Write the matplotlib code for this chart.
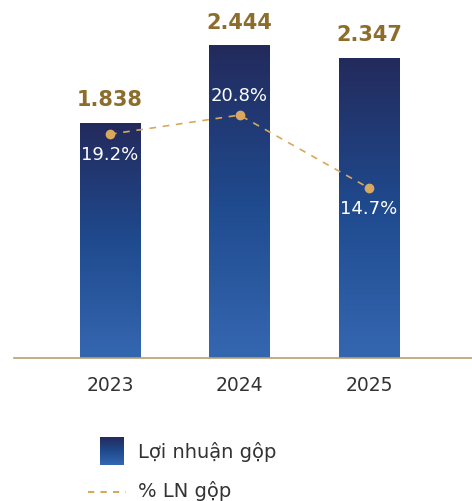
import numpy as np
import matplotlib.pyplot as plt
from matplotlib.colors import LinearSegmentedColormap

years = ["2023", "2024", "2025"]
profit = [1838, 2444, 2347]
profit_labels = ["1.838", "2.444", "2.347"]
margin = [19.2, 20.8, 14.7]
margin_labels = ["19.2%", "20.8%", "14.7%"]

gold = "#8c6d2c"
line_col = "#d8a85e"
grad = LinearSegmentedColormap.from_list("bar", ["#3567b1", "#1f4a8e", "#232a5c"])
gradient = np.linspace(0, 1, 256).reshape(-1, 1)

fig = plt.figure(figsize=(4.72, 5.02), dpi=100)
ax = fig.add_axes([14 / 472, 143 / 502, 458 / 472, 359 / 502])
x = np.arange(len(years))
w = 0.47

bars = ax.bar(x, profit, width=w, color="none", zorder=2)
for b in bars:
    x0, y0 = b.get_x(), b.get_y()
    im = ax.imshow(gradient, cmap=grad, origin="lower", aspect="auto",
                   extent=[x0, x0 + b.get_width(), y0, y0 + b.get_height()], zorder=2)
    im.set_clip_path(b)

for xi, v, lab in zip(x, profit, profit_labels):
    ax.annotate(lab, (xi, v), xytext=(0, 10), textcoords="offset points",
                ha="center", va="bottom", color=gold, fontsize=15, fontweight="bold")

ax.set_xlim(-0.741, 2.795)
ax.set_ylim(0, 2807)
ax.set_xticks(x)
ax.set_xticklabels(years, fontsize=13.5, color="#333333")
ax.tick_params(axis="x", length=0, pad=12)
ax.set_yticks([])
for s in ["top", "right", "left"]:
    ax.spines[s].set_visible(False)
ax.spines["bottom"].set_color("#b8a070")
ax.spines["bottom"].set_linewidth(1.2)

ax2 = ax.twinx()
ax2.set_ylim(0.5, 30.5)
ax2.plot(x, margin, linestyle=(0, (4, 4)), color=line_col, lw=1.2,
         marker="o", markersize=6, zorder=3)
ax2.axis("off")
offsets = [(0, -8, "top"), (0, 8, "bottom"), (0, -8, "top")]
for xi, v, lab, (dx, dy, va) in zip(x, margin, margin_labels, offsets):
    ax2.annotate(lab, (xi, v), xytext=(dx, dy), textcoords="offset points",
                 ha="center", va=va, color="white", fontsize=13)

# legend
lax = fig.add_axes([100 / 472, 36 / 502, 24 / 472, 28 / 502])
lax.imshow(gradient, cmap=grad, origin="lower", aspect="auto")
lax.axis("off")
fig.text(138 / 472, 1 - 452 / 502, "Lợi nhuận gộp", fontsize=14,
         color="#333333", va="center")
fig.add_artist(plt.Line2D([88 / 472, 126 / 472], [1 - 493 / 502] * 2,
                          transform=fig.transFigure, color=line_col,
                          linestyle=(0, (3, 3)), lw=1.5))
fig.text(138 / 472, 1 - 491 / 502, "% LN gộp", fontsize=14,
         color="#333333", va="center")

fig.savefig("out.png", dpi=100)
plt.close()
